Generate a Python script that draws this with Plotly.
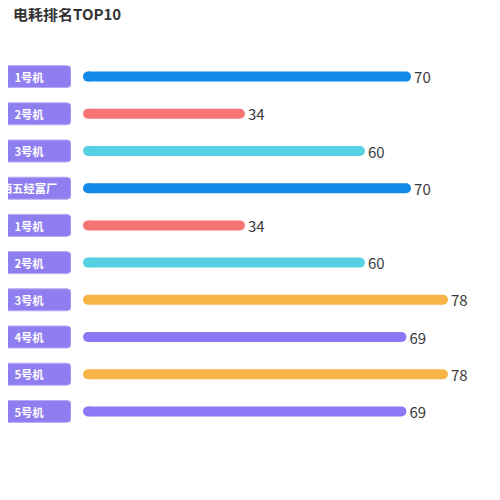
#电耗排名TOP10 - horizontal rounded bar ranking
import plotly.graph_objs as go

names = ["1号机", "2号机", "3号机", "西五经富厂", "1号机", "2号机", "3号机", "4号机", "5号机", "5号机"]
values = [70, 34, 60, 70, 34, 60, 78, 69, 78, 69]
bar_colors = ["#1089E7", "#F57474", "#56D0E3", "#1089E7", "#F57474",
              "#56D0E3", "#F8B448", "#8B78F6", "#F8B448", "#8B78F6"]

rows = list(range(len(names)))
font_cn = "Noto Sans CJK SC, Noto Sans, sans-serif"

#main bars, rounded at the value end
bars = go.Bar(x=values, y=rows, orientation="h",
              xaxis="x", yaxis="y",
              width=0.27,
              marker=dict(color=bar_colors, cornerradius=5, line=dict(width=0)),
              text=values, textposition="outside", constraintext="none",
              textfont=dict(size=15, color="#3a3a3a", family=font_cn),
              cliponaxis=False,
              hoverinfo="x")

#round cap at the start of each bar
caps = go.Scatter(x=[0] * len(values), y=rows, mode="markers",
                  xaxis="x", yaxis="y",
                  marker=dict(size=10, color=bar_colors, line=dict(width=0)),
                  cliponaxis=False, hoverinfo="skip")

#purple label boxes on the left (cut off by the left edge)
labels = go.Bar(x=[1.333] * len(names), base=-0.333, y=rows, orientation="h",
                xaxis="x2", yaxis="y",
                width=0.59,
                marker=dict(color="#8E7EF0", cornerradius=4,
                            line=dict(color="#B4A9F6", width=1)),
                text=names, textposition="inside", insidetextanchor="middle",
                constraintext="none",
                textfont=dict(size=12, color="white", family=font_cn, weight="bold"),
                hoverinfo="skip")

layout = go.Layout(
    width=500, height=500,
    margin=dict(l=0, r=0, t=50, b=78),
    paper_bgcolor="white", plot_bgcolor="white",
    showlegend=False, barmode="overlay",
    title=dict(text="<b>电耗排名TOP10</b>", x=0.01, xanchor="left",
               y=0.998, yanchor="top", pad=dict(t=0, b=0, l=0, r=0),
               font=dict(size=15, color="#333333", family=font_cn)),
    xaxis=dict(domain=[0.16, 1], range=[0, 91.0], visible=False, fixedrange=True),
    xaxis2=dict(domain=[0, 0.126], range=[0, 1], anchor="y", visible=False, fixedrange=True),
    yaxis=dict(range=[len(names) - 0.5, -0.5], visible=False, fixedrange=True),
)

fig = go.Figure(data=[labels, bars, caps], layout=layout)
fig.write_html("out.html")
